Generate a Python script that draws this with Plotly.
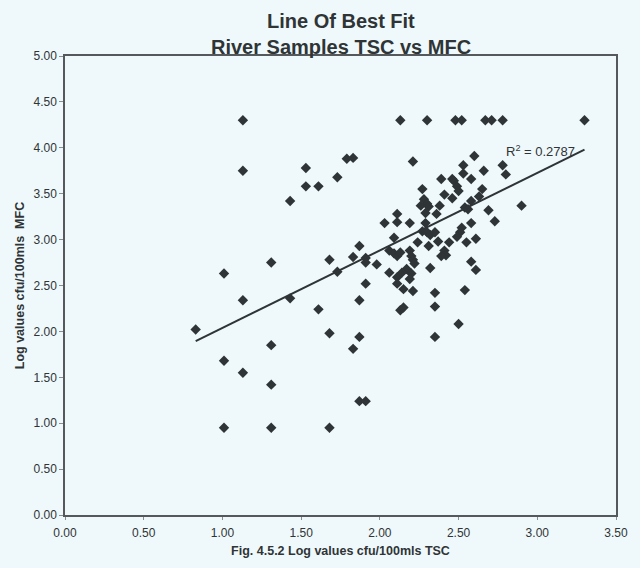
import plotly.graph_objects as go

# Log-transformed counts (cfu/100mls) for river samples
tsc = [
    0.83, 1.01, 1.01, 1.01, 1.13, 1.13, 1.13, 1.13, 1.31, 1.31, 1.31, 1.31,
    1.43, 1.43, 1.53, 1.53, 1.61, 1.61, 1.68, 1.68, 1.68, 1.73, 1.73, 1.79,
    1.83, 1.83, 1.83, 1.87, 1.87, 1.87, 1.87, 1.91, 1.91, 1.91, 1.91, 1.98,
    2.13, 2.30, 2.48, 2.52, 2.67, 2.71, 2.78, 3.30,
    2.21, 2.60, 2.53, 2.66, 2.78, 2.80, 2.53, 2.39, 2.46, 2.47, 2.49, 2.50,
    2.58, 2.27, 2.41, 2.46, 2.65, 2.63, 2.58, 2.28, 2.30, 2.31, 2.26, 2.38,
    2.54, 2.56, 2.90, 2.11, 2.11, 2.29, 2.36, 2.69, 2.73, 2.03, 2.19, 2.29,
    2.58, 2.27, 2.30, 2.32, 2.52, 2.51, 2.49, 2.35, 2.09, 2.24, 2.31, 2.37,
    2.44, 2.55, 2.61, 2.06, 2.09, 2.11, 2.13, 2.19, 2.20, 2.21, 2.22, 2.41,
    2.42, 2.39, 2.58, 2.61, 2.32, 2.17, 2.14, 2.06, 2.20, 2.19, 2.11, 2.11,
    2.15, 2.21, 2.35, 2.54, 2.35, 2.13, 2.15, 2.50, 2.35,
]
mfc = [
    2.02, 2.63, 1.68, 0.95, 4.30, 3.75, 2.34, 1.55, 2.75, 1.85, 1.42, 0.95,
    3.42, 2.36, 3.78, 3.58, 3.58, 2.24, 2.78, 1.98, 0.95, 3.68, 2.65, 3.88,
    3.89, 2.81, 1.81, 2.93, 2.34, 1.94, 1.24, 1.24, 2.80, 2.75, 2.52, 2.73,
    4.30, 4.30, 4.30, 4.30, 4.30, 4.30, 4.30, 4.30,
    3.85, 3.91, 3.81, 3.75, 3.81, 3.71, 3.72, 3.66, 3.66, 3.64, 3.58, 3.53,
    3.66, 3.55, 3.49, 3.45, 3.55, 3.47, 3.42, 3.44, 3.39, 3.36, 3.37, 3.37,
    3.35, 3.33, 3.37, 3.28, 3.19, 3.29, 3.28, 3.32, 3.20, 3.18, 3.18, 3.18,
    3.18, 3.09, 3.08, 3.05, 3.13, 3.08, 3.03, 3.08, 3.02, 2.97, 2.93, 2.98,
    2.97, 2.97, 3.01, 2.88, 2.85, 2.82, 2.86, 2.88, 2.82, 2.78, 2.74, 2.88,
    2.83, 2.82, 2.76, 2.67, 2.69, 2.68, 2.64, 2.64, 2.63, 2.57, 2.59, 2.52,
    2.46, 2.44, 2.42, 2.45, 2.27, 2.23, 2.26, 2.08, 1.94,
]

# Linear trend line coefficients (MFC = slope * TSC + intercept)
trend_slope = 0.844
trend_intercept = 1.194
r_squared_label = "R<sup>2</sup> = 0.2787"

x_ticks = [0.0, 0.5, 1.0, 1.5, 2.0, 2.5, 3.0, 3.5]
y_ticks = [0.0, 0.5, 1.0, 1.5, 2.0, 2.5, 3.0, 3.5, 4.0, 4.5, 5.0]

# Trend line spans the observed TSC range
fit_x = [min(tsc), max(tsc)]
fit_y = [trend_slope * v + trend_intercept for v in fit_x]

ink = "#2f3436"
bg = "#eff9fb"
font_family = "Liberation Sans, Arial, sans-serif"

fig = go.Figure()
fig.add_trace(go.Scatter(
    x=tsc, y=mfc, mode="markers",
    marker=dict(symbol="diamond", size=8, color=ink, line=dict(width=0)),
    showlegend=False,
))
fig.add_trace(go.Scatter(
    x=fit_x, y=fit_y, mode="lines",
    line=dict(color=ink, width=2),
    showlegend=False,
))

fig.add_annotation(
    x=2.79, y=3.97, xref="x", yref="y", text=r_squared_label,
    showarrow=False, xanchor="left", yanchor="middle",
    font=dict(family=font_family, size=13, color=ink),
)

# Two-line chart heading above the plot area
title_lines = ["Line Of Best Fit", "River Samples TSC vs MFC"]
for text, ypos in zip(title_lines, [1.076, 1.019]):
    fig.add_annotation(
        x=0.5, y=ypos, xref="paper", yref="paper",
        text=f"<b>{text}</b>", showarrow=False,
        xanchor="center", yanchor="middle",
        font=dict(family=font_family, size=20, color=ink),
    )

fig.update_layout(
    width=640, height=568,
    margin=dict(l=65, r=16, t=56, b=51),
    paper_bgcolor=bg, plot_bgcolor=bg,
    font=dict(family=font_family, color=ink),
    xaxis=dict(
        range=[0, 3.5], tickvals=x_ticks, tickformat=".2f",
        showgrid=False, zeroline=False,
        showline=True, mirror=True, linecolor="#55595b", linewidth=1.5,
        ticks="outside", ticklen=3, tickcolor="#8a8e90",
        ticklabelstandoff=3,
        tickfont=dict(size=12, color=ink),
        title=dict(text="<b>Fig. 4.5.2 Log values cfu/100mls TSC</b>",
                   font=dict(size=12.5, color=ink), standoff=7),
    ),
    yaxis=dict(
        range=[0, 5], tickvals=y_ticks, tickformat=".2f",
        showgrid=False, zeroline=False,
        showline=True, mirror=True, linecolor="#55595b", linewidth=1.5,
        ticks="outside", ticklen=4, tickcolor="#8a8e90",
        tickfont=dict(size=12, color=ink),
        title=dict(text="<b>Log values cfu/100mls  MFC</b>",
                   font=dict(size=12.5, color=ink), standoff=6),
    ),
)

fig.write_html("out.html")
